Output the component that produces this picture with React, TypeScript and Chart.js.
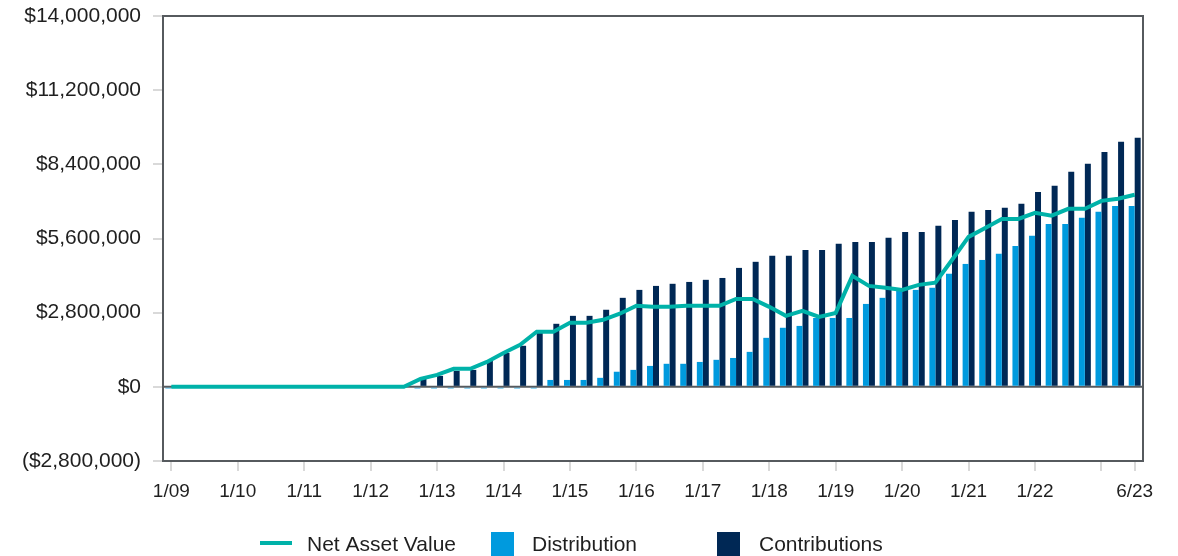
import React, { useEffect, useRef } from 'react';
import { Chart, registerables } from 'chart.js';

Chart.register(...registerables);

// ---------- data ----------
const categories = [
  '1/09', '4/09', '7/09', '10/09',
  '1/10', '4/10', '7/10', '10/10',
  '1/11', '4/11', '7/11', '10/11',
  '1/12', '4/12', '7/12', '10/12',
  '1/13', '4/13', '7/13', '10/13',
  '1/14', '4/14', '7/14', '10/14',
  '1/15', '4/15', '7/15', '10/15',
  '1/16', '4/16', '7/16', '10/16',
  '1/17', '4/17', '7/17', '10/17',
  '1/18', '4/18', '7/18', '10/18',
  '1/19', '4/19', '7/19', '10/19',
  '1/20', '4/20', '7/20', '10/20',
  '1/21', '4/21', '7/21', '10/21',
  '1/22', '4/22', '7/22', '10/22',
  '1/23', '4/23', '6/23',
];

const labeledTicks = ['1/09', '1/10', '1/11', '1/12', '1/13', '1/14', '1/15', '1/16', '1/17', '1/18', '1/19', '1/20', '1/21', '1/22', '6/23'];
const unlabeledTicks = ['1/23'];

const netAssetValue = [
  0, 0, 0, 0, 0, 0, 0, 0, 0, 0, 0, 0, 0, 0, 0,
  300000, 450000, 680000, 680000, 940000, 1280000, 1590000, 2080000, 2080000, 2420000,
  2420000, 2530000, 2760000, 3060000, 3020000, 3020000, 3060000, 3060000, 3060000, 3320000,
  3320000, 3020000, 2680000, 2870000, 2640000, 2790000, 4190000, 3810000, 3740000, 3660000,
  3850000, 3930000, 4790000, 5660000, 6000000, 6340000, 6340000, 6570000, 6460000, 6720000,
  6720000, 7020000, 7100000, 7250000,
];

const distribution = [
  -60000, 0, 0, 0, 0, 0, 0, 0, 0, 0, 0, 0, 0, 0, 0,
  -60000, -60000, -60000, -60000, -60000, -60000, -60000, -60000,
  260000, 260000, 260000, 340000, 570000, 640000, 790000, 870000, 870000, 940000,
  1020000, 1090000, 1320000, 1850000, 2230000, 2300000, 2600000, 2600000, 2600000, 3130000,
  3360000, 3660000, 3660000, 3740000, 4270000, 4640000, 4790000, 5020000, 5320000, 5700000,
  6150000, 6150000, 6380000, 6610000, 6830000, 6830000,
];

const contributions = [
  0, 0, 0, 0, 0, 0, 0, 0, 0, 0, 0, 0, 0, 0,
  50000, 300000, 415000, 600000, 640000, 980000, 1280000, 1550000, 2040000, 2380000,
  2680000, 2680000, 2910000, 3360000, 3660000, 3810000, 3890000, 3960000, 4040000, 4110000,
  4490000, 4720000, 4950000, 4950000, 5170000, 5170000, 5400000, 5470000, 5470000, 5630000,
  5850000, 5850000, 6080000, 6300000, 6610000, 6680000, 6760000, 6910000, 7360000, 7590000,
  8120000, 8420000, 8870000, 9250000, 9400000,
];

const yMin = -2800000;
const yMax = 14000000;
const yStep = 2800000;

const seriesNames = ['Net Asset Value', 'Distribution', 'Contributions'];

// ---------- styles ----------
const COLORS = {
  nav: '#00b2a9',
  dist: '#009ade',
  contrib: '#002855',
  frame: '#565a5e',
  tick: '#d9d9d9',
  text: '#1f1f1f',
};
const FONT_FAMILY = 'Arial, "Liberation Sans", Helvetica, sans-serif';

const legendLayout = [
  { kind: 'line', x: 260, w: 32, textX: 307 },
  { kind: 'box', x: 491, w: 23, textX: 532 },
  { kind: 'box', x: 717, w: 23, textX: 759 },
];

const fmtMoney = (v: number) => {
  const s = '$' + Math.abs(v).toLocaleString('en-US');
  return v < 0 ? '(' + s + ')' : s;
};

const framePlugin = {
  id: 'frameAndZero',
  beforeDatasetsDraw(chart: any) {
    const { ctx, chartArea, scales } = chart;
    ctx.save();
    ctx.strokeStyle = COLORS.frame;
    ctx.lineWidth = 2;
    ctx.strokeRect(chartArea.left, chartArea.top, chartArea.right - chartArea.left, chartArea.bottom - chartArea.top);
    const y0 = scales.y.getPixelForValue(0);
    ctx.beginPath();
    ctx.moveTo(chartArea.left, y0);
    ctx.lineTo(chartArea.right, y0);
    ctx.stroke();
    ctx.restore();
  },
};

const legendPlugin = {
  id: 'customLegend',
  afterDraw(chart: any) {
    const { ctx } = chart;
    const yc = 544;
    const colors = [COLORS.nav, COLORS.dist, COLORS.contrib];
    ctx.save();
    legendLayout.forEach((item, i) => {
      ctx.fillStyle = colors[i];
      ctx.strokeStyle = colors[i];
      if (item.kind === 'line') {
        ctx.lineWidth = 4;
        ctx.beginPath();
        ctx.moveTo(item.x, yc - 1);
        ctx.lineTo(item.x + item.w, yc - 1);
        ctx.stroke();
      } else {
        ctx.fillRect(item.x, yc - 12, item.w, 24);
      }
      ctx.fillStyle = COLORS.text;
      ctx.font = `21px ${FONT_FAMILY}`;
      ctx.textBaseline = 'middle';
      ctx.textAlign = 'left';
      ctx.fillText(seriesNames[i], item.textX, yc + 1);
    });
    ctx.restore();
  },
};

export default function App() {
  const canvasRef = useRef<HTMLCanvasElement | null>(null);

  useEffect(() => {
    if (!canvasRef.current) return;
    const chart = new Chart(canvasRef.current, {
      type: 'bar',
      data: {
        labels: categories,
        datasets: [
          {
            type: 'line',
            label: seriesNames[0],
            data: netAssetValue,
            borderColor: COLORS.nav,
            backgroundColor: COLORS.nav,
            borderWidth: 4,
            pointRadius: 0,
            pointHoverRadius: 0,
            tension: 0,
            order: 0,
          } as any,
          {
            type: 'bar',
            label: seriesNames[1],
            data: distribution,
            backgroundColor: COLORS.dist,
            categoryPercentage: 0.72,
            barPercentage: 1.0,
            order: 1,
          },
          {
            type: 'bar',
            label: seriesNames[2],
            data: contributions,
            backgroundColor: COLORS.contrib,
            categoryPercentage: 0.72,
            barPercentage: 1.0,
            order: 1,
          },
        ],
      },
      options: {
        animation: false,
        responsive: false,
        maintainAspectRatio: false,
        layout: { padding: { top: 16, right: 35, bottom: 0, left: 0 } },
        plugins: {
          legend: { display: false },
          tooltip: { enabled: false },
        },
        scales: {
          x: {
            type: 'category',
            offset: true,
            border: { display: false },
            grid: {
              offset: false,
              drawOnChartArea: false,
              drawTicks: true,
              tickLength: 10,
              lineWidth: 2,
              color: (ctx: any) => {
                const lab = categories[ctx.index];
                return labeledTicks.includes(lab) || unlabeledTicks.includes(lab) ? COLORS.tick : 'rgba(0,0,0,0)';
              },
            },
            ticks: {
              autoSkip: false,
              maxRotation: 0,
              minRotation: 0,
              padding: 9,
              color: COLORS.text,
              font: { family: FONT_FAMILY, size: 19 },
              callback: (_v: any, index: number) => {
                const lab = categories[index];
                return labeledTicks.includes(lab) ? lab : '';
              },
            },
            afterFit: (scale: any) => {
              scale.height = 95;
              scale.paddingLeft = 0;
              scale.paddingRight = 0;
            },
          },
          y: {
            min: yMin,
            max: yMax,
            border: { display: false },
            grid: {
              drawOnChartArea: false,
              drawTicks: true,
              tickLength: 10,
              lineWidth: 2,
              color: COLORS.tick,
            },
            ticks: {
              stepSize: yStep,
              padding: 12,
              color: COLORS.text,
              font: { family: FONT_FAMILY, size: 21 },
              callback: (v: any) => fmtMoney(Number(v)),
            },
            afterFit: (scale: any) => {
              scale.width = 163;
              scale.paddingTop = 0;
              scale.paddingBottom = 0;
            },
          },
        },
      },
      plugins: [framePlugin, legendPlugin],
    });
    return () => chart.destroy();
  }, []);

  return (
    <div style={{ position: 'fixed', left: 0, top: 0, width: 1178, height: 556, background: '#fff' }}>
      <canvas ref={canvasRef} width={1178} height={556} style={{ width: 1178, height: 556, display: 'block' }} />
    </div>
  );
}
